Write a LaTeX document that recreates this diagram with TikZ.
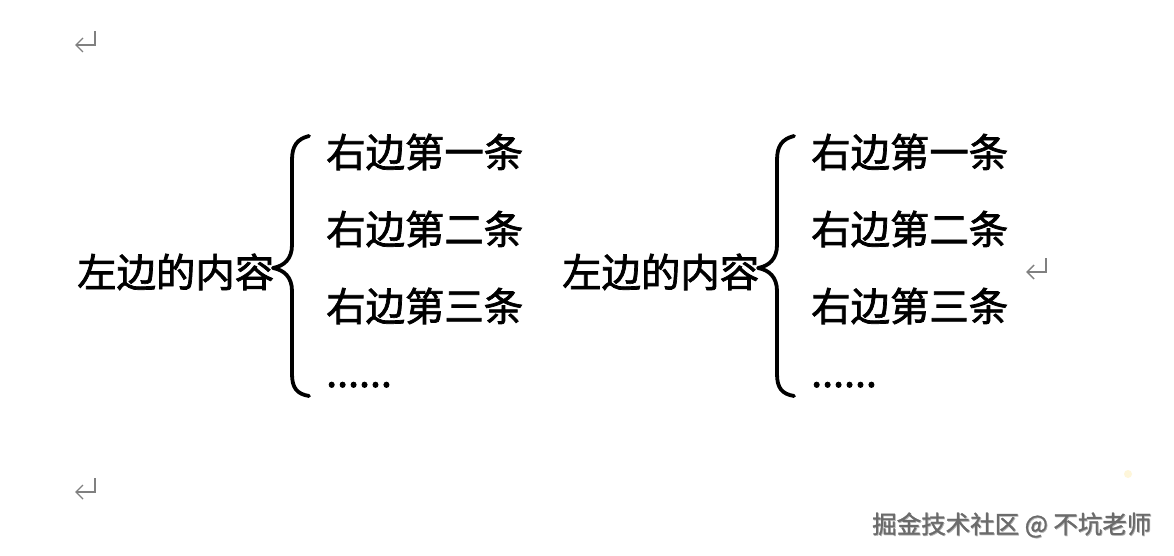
\documentclass[tikz,border=0pt]{standalone}
\usepackage{fontspec}
\newfontfamily\cjk[FakeBold=1.8]{Noto Sans CJK SC}
\newfontfamily\wmfont[FakeBold=1]{Noto Sans CJK SC}
\begin{document}
\begin{tikzpicture}[x=1pt,y=-1pt,
  txt/.style={inner sep=0pt,anchor=base west,font=\cjk\fontsize{39.4}{39.4}\selectfont},
  brc/.style={line width=3.8pt,line cap=round,line join=round},
  retmark/.style={draw=black!50,line width=1.4pt},
  wm/.style={inner sep=0pt,anchor=west,font=\wmfont\fontsize{24.5}{24.5}\selectfont}]
\useasboundingbox[fill=white] (0,0) rectangle (1174,556);
% return marks
\foreach \n/\px/\py in {r1/86/41, r2/1037/268, r3/86/488}{
  \coordinate (\n) at (\px,\py);
  \draw[retmark] ([shift={(9,-10)}]\n) -- ([shift={(9,4)}]\n) -- ([shift={(-10,4)}]\n);
  \draw[retmark] ([shift={(-3,-3)}]\n) -- ([shift={(-10,4)}]\n) -- ([shift={(-3,11)}]\n);
}
% two copies
\foreach \s/\o in {a/0,b/485}{
  \begin{scope}[xshift=\o]
  \node[txt] (left\s) at (77,287) {左边的内容};
  \coordinate (tip\s) at (273,268);
  \draw[brc] (309,136) .. controls (297,139) and (292,146) .. (292,160)
     -- (292,245) .. controls (292,259) and (284,266) .. (tip\s)
     .. controls (284,270) and (292,277) .. (292,291)
     -- (292,374) .. controls (292,388) and (297,394) .. (309,396);
  \node[txt] (r1\s) at (326,167) {右边第一条};
  \node[txt] (r2\s) at (326,244) {右边第二条};
  \node[txt] (r3\s) at (326,321) {右边第三条};
  \node[txt] (r4\s) at (326,387) {......};
  \end{scope}
}
% faint dot
\fill[yellow!60!orange,opacity=0.15] (1128,474) circle (4);
% watermark
\node[wm,text=black!30] (wmk0) at (872.8,525.8) {掘金技术社区 @ 不坑老师};
\node[wm,text=black!58] (wmk) at (872,525) {掘金技术社区 @ 不坑老师};
\end{tikzpicture}
\end{document}
